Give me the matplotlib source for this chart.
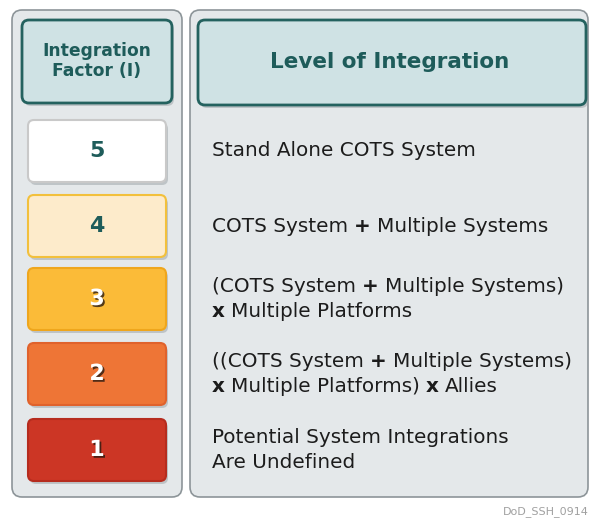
import matplotlib.pyplot as plt
import matplotlib.patheffects as pe
from matplotlib.patches import FancyBboxPatch

plt.rcParams['font.family'] = ['DejaVu Sans']

# data
factors = ["5", "4", "3", "2", "1"]
box_colors = ["#ffffff", "#fdebcb", "#fbbb38", "#ee7536", "#cc3625"]
edge_colors = ["#c9c9c9", "#f2c03c", "#efa61c", "#e0622c", "#b62c1e"]
num_colors = ["#1e5c5a", "#1e5c5a", "white", "white", "white"]
# each description: list of lines, each line a list of (text, bold) pieces
descriptions = [
    [[("Stand Alone COTS System", False)]],
    [[("COTS System", False), ("+", True), ("Multiple Systems", False)]],
    [[("(COTS System", False), ("+", True), ("Multiple Systems)", False)],
     [("x", True), ("Multiple Platforms", False)]],
    [[("((COTS System", False), ("+", True), ("Multiple Systems)", False)],
     [("x", True), ("Multiple Platforms)", False), ("x", True), ("Allies", False)]],
    [[("Potential System Integrations", False)],
     [("Are Undefined", False)]],
]

teal = "#1e5c5a"

fig = plt.figure(figsize=(5.92, 5.21), dpi=100)
ax = fig.add_axes([0, 0, 1, 1])
ax.set_xlim(0, 592)
ax.set_ylim(521, 0)
ax.axis("off")


def rbox(x, y, w, h, fc, ec, lw=1.0, r=6, shadow=False, z=1):
    if shadow:
        ax.add_patch(FancyBboxPatch((x + 2, y + 3), w, h,
                                    boxstyle=f"round,pad=0,rounding_size={r}",
                                    fc="#9aa2a6", ec="none", alpha=0.5, zorder=z))
    ax.add_patch(FancyBboxPatch((x, y), w, h,
                                boxstyle=f"round,pad=0,rounding_size={r}",
                                fc=fc, ec=ec, lw=lw, zorder=z + 0.5))


# panels
rbox(12, 10, 170, 487, "#e4e8ea", "#8d9599", lw=1.2, r=10)
rbox(190, 10, 398, 487, "#e4e8ea", "#8d9599", lw=1.2, r=10)

# headers
rbox(22, 20, 150, 83, "#cfe2e4", "#24625f", lw=2, r=7, shadow=True, z=2)
rbox(198, 20, 388, 85, "#cfe2e4", "#24625f", lw=2, r=7, shadow=True, z=2)
ax.text(97, 61, "Integration\nFactor (I)", ha="center", va="center",
        fontsize=12.3, fontweight="bold", color=teal, linespacing=1.15, zorder=5)
ax.text(390, 62, "Level of Integration", ha="center", va="center",
        fontsize=15.5, fontweight="bold", color=teal, zorder=5)

tops = [120, 195, 268, 343, 419]
box_h = 62
fs = 14.4

for i, f in enumerate(factors):
    y0 = tops[i]
    rbox(28, y0, 138, box_h, box_colors[i], edge_colors[i], lw=1.5, r=6,
         shadow=True, z=2)
    effects = []
    if num_colors[i] == "white":
        effects = [pe.withSimplePatchShadow(offset=(1.3, -1.3),
                                            shadow_rgbFace="#2a1a10", alpha=0.8)]
    ax.text(97, y0 + box_h / 2, f, ha="center", va="center", fontsize=16,
            fontweight="bold", color=num_colors[i], path_effects=effects, zorder=5)

    lines = descriptions[i]
    cy = y0 + box_h / 2
    offs = [0] if len(lines) == 1 else [-12.5, 12.5]
    for line, dy in zip(lines, offs):
        prev = None
        for txt, bold in line:
            kw = dict(fontsize=fs, color="#1c1c1c", zorder=5,
                      fontweight="bold" if bold else "normal")
            if prev is None:
                prev = ax.text(212, cy + dy, txt, ha="left", va="center", **kw)
            else:
                prev = ax.annotate(txt, xy=(1, 0), xycoords=prev,
                                   xytext=(4.3, 0), textcoords="offset points",
                                   ha="left", va="bottom", **kw)

ax.text(589, 512, "DoD_SSH_0914", ha="right", va="center", fontsize=8,
        color="#a0a0a0")

fig.savefig("out.png", dpi=100)
